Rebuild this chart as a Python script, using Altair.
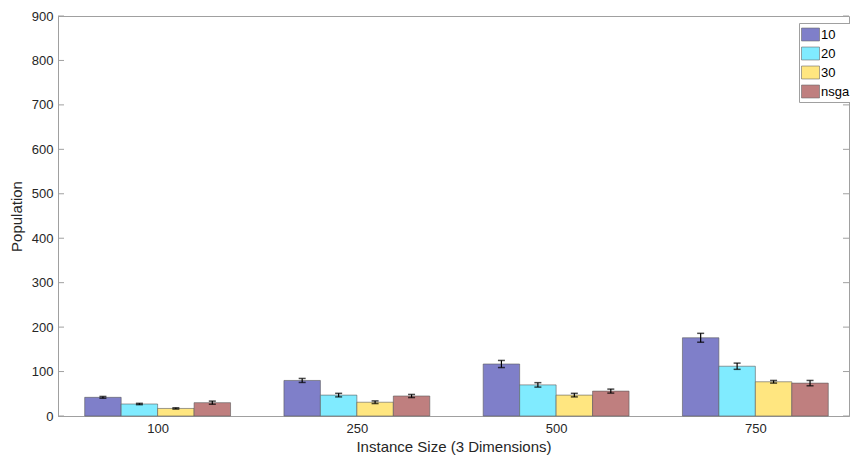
import altair as alt
import pandas as pd

# Instance sizes (groups) and the four population settings compared
sizes = ["100", "250", "500", "750"]
series = ["10", "20", "30", "nsga"]

# Mean population per group, one list per series
pop_10 = [42, 80, 117, 176]
pop_20 = [27, 47, 70, 112]
pop_30 = [17, 31, 47, 77]
pop_nsga = [30, 45, 56, 74]

# Error half-widths
err_10 = [2, 4.5, 8, 10]
err_20 = [1.5, 4, 5, 7]
err_30 = [1.5, 3, 4, 3]
err_nsga = [3.5, 3.5, 4.5, 6]

colors = ["#7f7fc9", "#80ebff", "#ffe680", "#bf7f7f"]
y_ticks = [0, 100, 200, 300, 400, 500, 600, 700, 800, 900]

FONT = "Liberation Sans"
TEXT = "#262626"
AXIS = "#a0a0a0"
W, H = 791, 400
BAR_W = 0.183

values = [pop_10, pop_20, pop_30, pop_nsga]
errs = [err_10, err_20, err_30, err_nsga]
rows = []
for si, s in enumerate(series):
    for gi, g in enumerate(sizes):
        c = gi + 1 + (si - 1.5) * BAR_W
        v, e = values[si][gi], errs[si][gi]
        rows.append({
            "size": g, "series": s, "value": v, "base": 0,
            "x0": c - BAR_W / 2, "x1": c + BAR_W / 2, "xc": c,
            "lo": v - e, "hi": v + e,
        })
df = pd.DataFrame(rows)

label_expr = "[" + ",".join(f"'{s}'" for s in sizes) + "][datum.value - 1]"

x_scale = alt.Scale(domain=[0.5, 4.47], nice=False, zero=False)
y_scale = alt.Scale(domain=[0, 900], nice=False)
color_scale = alt.Scale(domain=series, range=colors)

bars = alt.Chart(df).mark_bar(stroke="#5a5a5a", strokeWidth=0.6, opacity=1).encode(
    x=alt.X("x0:Q", scale=x_scale,
            axis=alt.Axis(values=[1, 2, 3, 4], labelExpr=label_expr, ticks=False,
                          grid=False, title="Instance Size (3 Dimensions)",
                          labelPadding=6, titlePadding=4)),
    x2="x1:Q",
    y=alt.Y("value:Q", scale=y_scale,
            axis=alt.Axis(values=y_ticks, ticks=False, grid=False,
                          title="Population", labelPadding=5, titlePadding=7)),
    y2="base:Q",
    color=alt.Color("series:N", scale=color_scale,
                    legend=alt.Legend(
                        title=None, orient="none", legendX=741, legendY=7,
                        symbolType="M-1,-0.72H1V0.72H-1Z", symbolSize=324,
                        symbolStrokeColor="#6a6a6a", symbolStrokeWidth=0.6,
                        symbolOpacity=1,
                        labelFont=FONT, labelFontSize=13, labelColor="#000000",
                        labelOffset=1, rowPadding=1,
                        strokeColor="#a0a0a0", fillColor="white",
                        padding=2)),
)

err_rule = alt.Chart(df).mark_rule(color="black", strokeWidth=1.2).encode(
    x=alt.X("xc:Q", scale=x_scale), y=alt.Y("lo:Q", scale=y_scale), y2="hi:Q"
)
cap_lo = alt.Chart(df).mark_tick(color="black", thickness=1.5, size=7,
                                  orient="horizontal").encode(
    x=alt.X("xc:Q", scale=x_scale), y=alt.Y("lo:Q", scale=y_scale)
)
cap_hi = alt.Chart(df).mark_tick(color="black", thickness=1.5, size=7,
                                  orient="horizontal").encode(
    x=alt.X("xc:Q", scale=x_scale), y=alt.Y("hi:Q", scale=y_scale)
)

# Inward-pointing ticks on the left and right edges of the box
ticks_df = pd.DataFrame({"t": y_ticks})
left_ticks = alt.Chart(ticks_df).mark_rule(color=AXIS, strokeWidth=1).encode(
    y=alt.Y("t:Q", scale=y_scale), x=alt.value(0), x2=alt.value(6)
)
right_ticks = alt.Chart(ticks_df).mark_rule(color=AXIS, strokeWidth=1).encode(
    y=alt.Y("t:Q", scale=y_scale), x=alt.value(W - 6), x2=alt.value(W)
)

chart = alt.layer(left_ticks, right_ticks, bars, err_rule, cap_lo, cap_hi).properties(
    width=W, height=H,
    background="white",
    autosize=alt.AutoSizeParams(type="none"),
    padding={"left": 58, "top": 16, "right": 1, "bottom": 48},
).configure_view(
    stroke=AXIS, strokeWidth=1
).configure_axis(
    domainColor=AXIS, domainWidth=1,
    labelFont=FONT, labelFontSize=13, labelColor=TEXT,
    titleFont=FONT, titleFontSize=15, titleFontWeight="normal", titleColor=TEXT,
)

chart.save("out.html", embed_options={"renderer": "svg", "actions": False})
